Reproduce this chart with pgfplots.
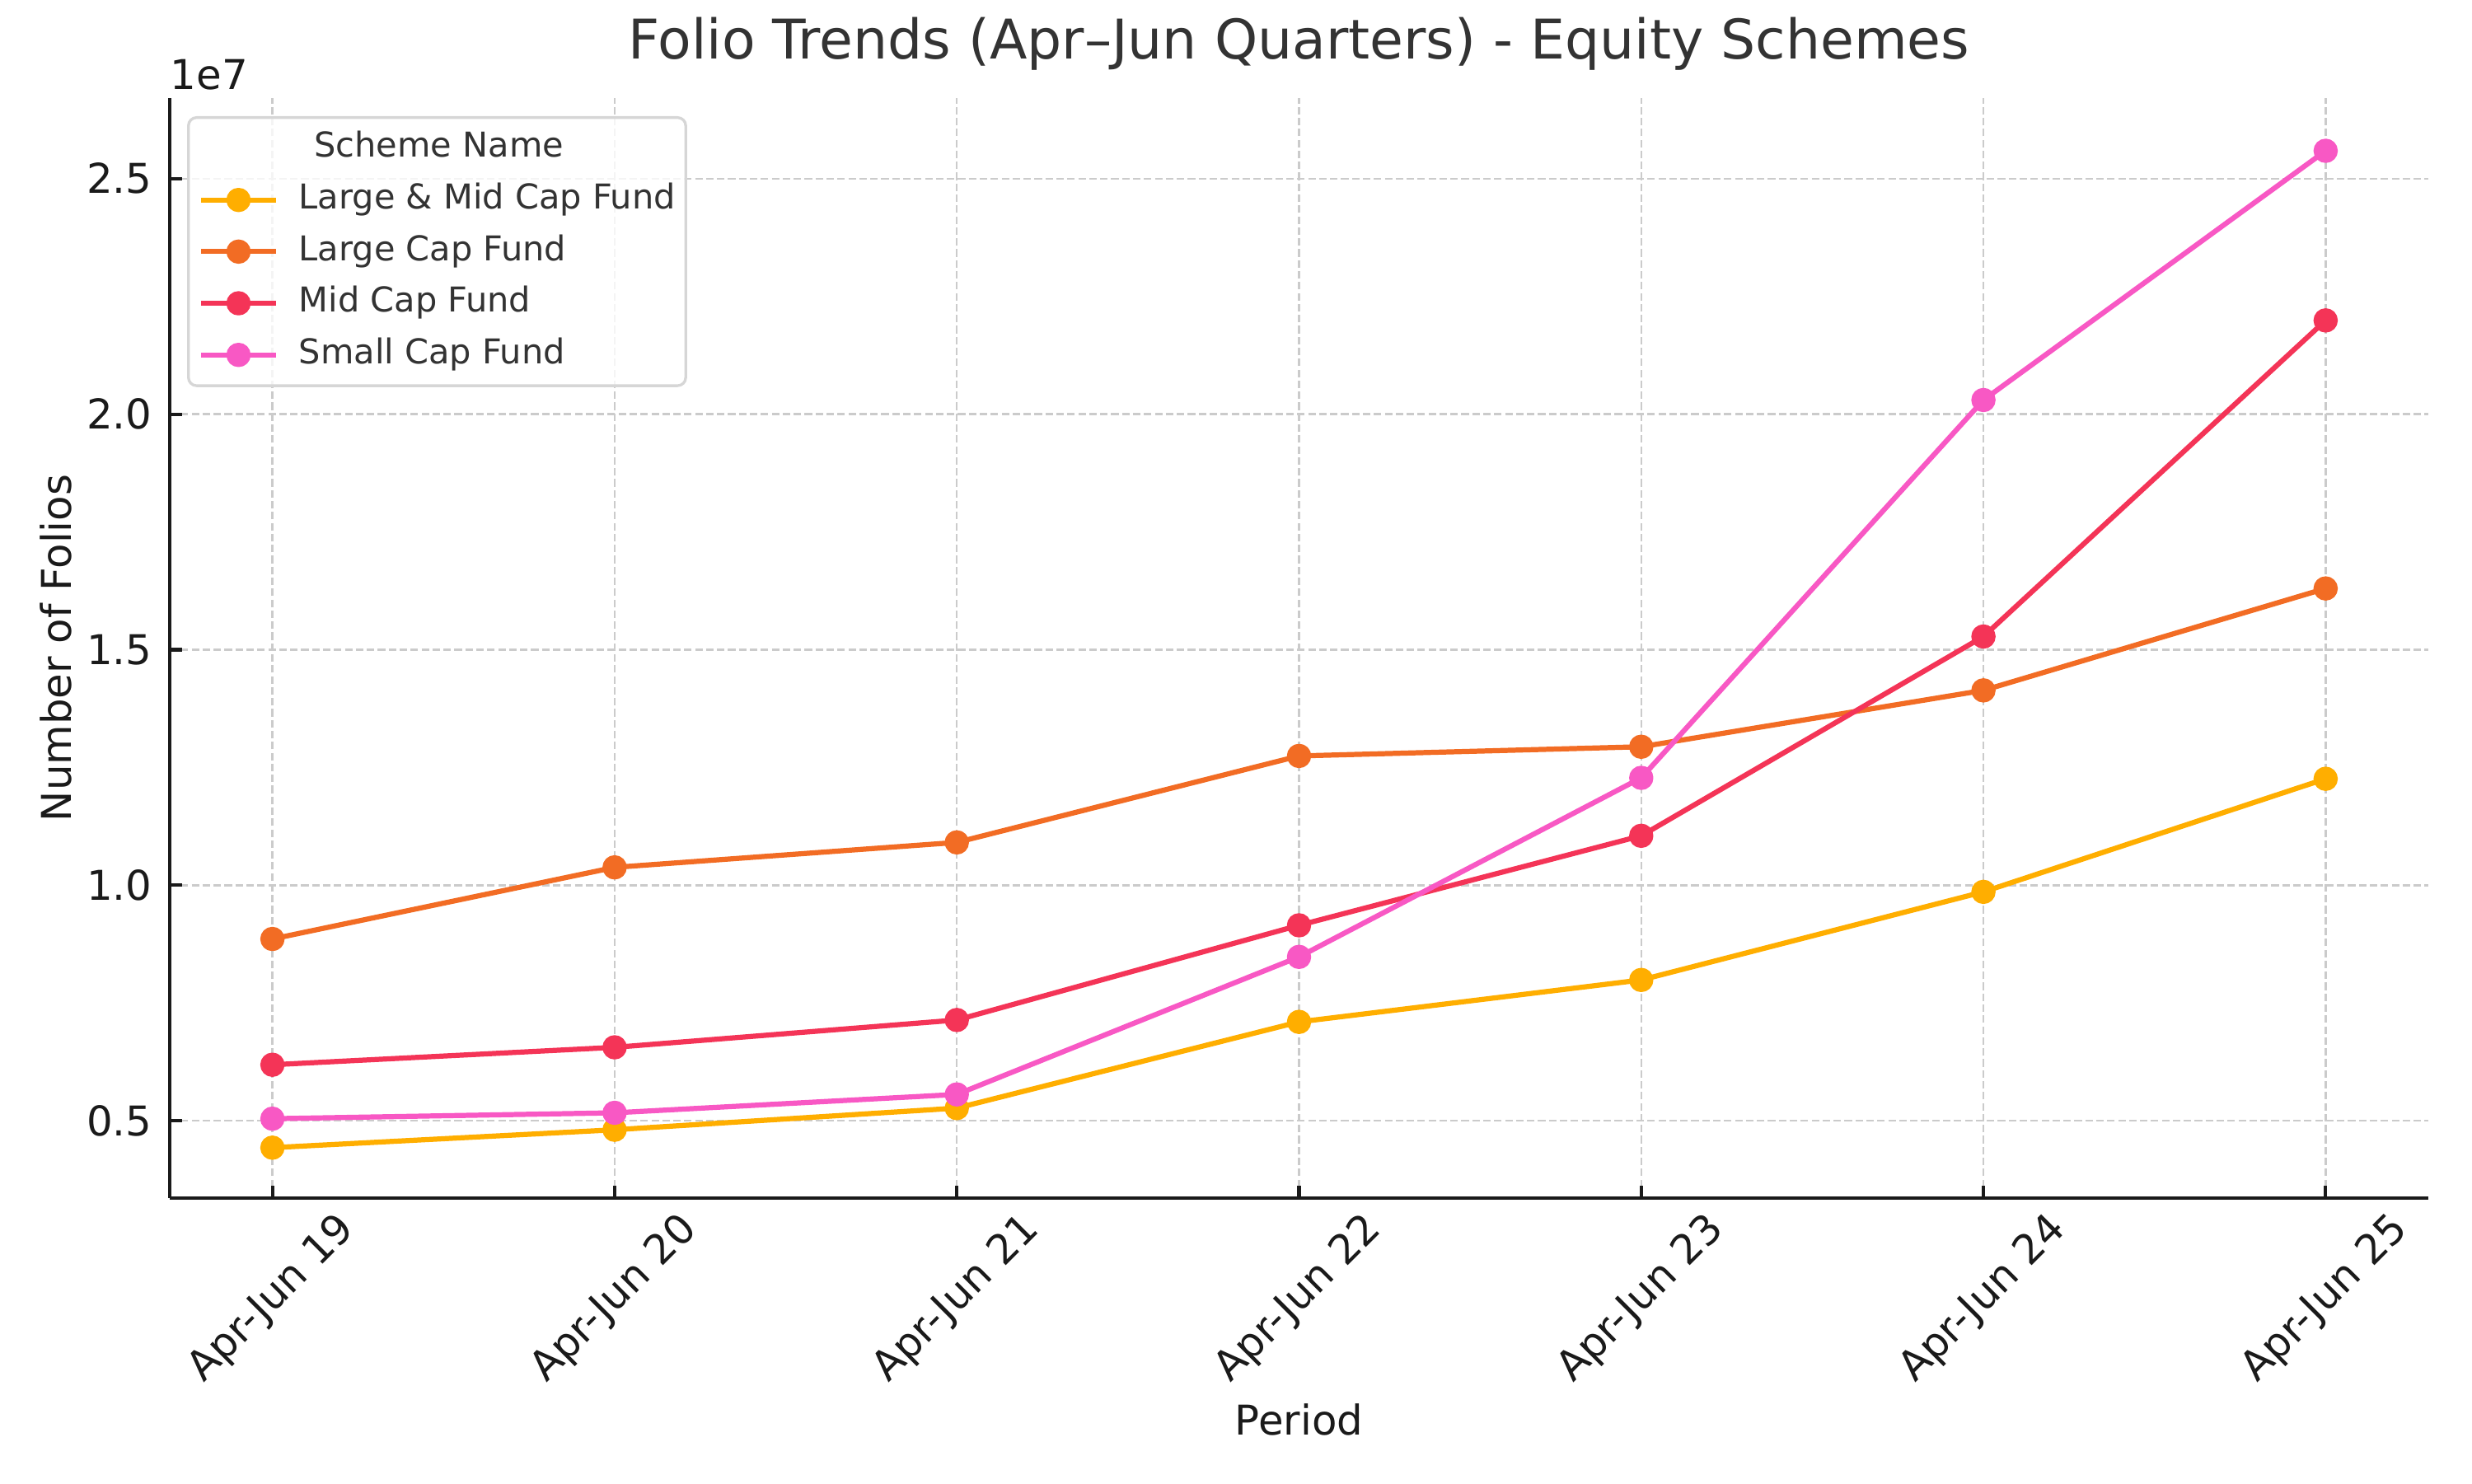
\documentclass[border=0pt]{standalone}
\usepackage{pgfplots}
\pgfplotsset{compat=1.18}
\usepackage{fontspec}
\setmainfont{DejaVu Sans}
\definecolor{cLMC}{HTML}{FFAE00}
\definecolor{cLC}{HTML}{F26C24}
\definecolor{cMC}{HTML}{F43457}
\definecolor{cSC}{HTML}{F858C4}
\definecolor{txt}{HTML}{1A1A1A}
\definecolor{ttl}{HTML}{333333}
\definecolor{gridc}{HTML}{CBCBCB}
\definecolor{legc}{HTML}{D6D6D6}
\begin{document}
\begin{tikzpicture}
\useasboundingbox (0,0) rectangle (722.7pt,433.62pt);
\begin{axis}[
  name=ax,
  at={(49.63pt,83.35pt)}, anchor=south west,
  scale only axis, width=660.3pt, height=321.6pt,
  xmin=-0.3, xmax=6.3, ymin=3360000, ymax=26710000,
  axis lines*=left,
  axis line style={line width=1pt, txt},
  xtick={0,1,2,3,4,5,6},
  xticklabels={Apr-Jun 19, Apr-Jun 20, Apr-Jun 21, Apr-Jun 22, Apr-Jun 23, Apr-Jun 24, Apr-Jun 25},
  ytick={5000000,10000000,15000000,20000000,25000000},
  yticklabels={0.5,1.0,1.5,2.0,2.5},
  scaled y ticks=false,
  tick align=inside,
  major tick length=3.5pt,
  tick style={line width=1pt, txt},
  ticklabel style={font=\fontsize{12}{14.4}\selectfont, text=txt},
  xticklabel style={yshift=-29.6pt, rotate=45, anchor=center, inner sep=0pt},
  yticklabel style={anchor=east, inner sep=0pt, xshift=-5pt},
  grid=major,
  major grid style={gridc, line width=0.6pt, dash pattern=on 2.2pt off 1pt},
  title={Folio Trends (Apr–Jun Quarters) - Equity Schemes},
  title style={at={(axis description cs:0.5,1)}, anchor=base, yshift=5.5pt, font=\fontsize{16}{19}\selectfont, text=ttl, inner sep=0pt},
  xlabel={Period},
  xlabel style={at={(axis description cs:0.5,-0.2155)}, anchor=base, font=\fontsize{12}{14.4}\selectfont, text=txt, inner sep=0pt},
  ylabel={Number of Folios},
  ylabel style={at={(axis description cs:-0.04378,0.5)}, anchor=base, font=\fontsize{12}{14.4}\selectfont, text=txt, inner sep=0pt},
  legend cell align=left,
  legend style={at={(0,1)}, anchor=north west, xshift=5.06pt, yshift=-5.3pt,
    draw=legc, line width=0.8pt, rounded corners=2.4pt, fill=white, fill opacity=0.8, text opacity=1,
    text=ttl, font=\fontsize{10}{12}\selectfont, inner xsep=3pt, inner ysep=4pt,
    row sep=5.1pt, column sep=6pt,
    nodes={inner sep=0pt, text height=7.6pt, text depth=2.4pt}},
  legend image code/.code={\draw[opacity=1, mark repeat=2, mark phase=2] plot coordinates {(0pt,0pt) (10.9pt,0pt) (21.8pt,0pt)};},
  every axis plot/.append style={line width=1.5pt, line join=round, mark=*, mark size=2.8pt},
]
\addlegendimage{empty legend}
\addlegendentry{\hspace*{4.5pt}Scheme Name}

\addplot[cLMC, mark options={draw=none, fill=cLMC}] coordinates {
(0,4430000) (1,4810000) (2,5270000) (3,7100000) (4,7990000) (5,9860000) (6,12260000)};
\addlegendentry{Large \& Mid Cap Fund}

\addplot[cLC, mark options={draw=none, fill=cLC}] coordinates {
(0,8860000) (1,10380000) (2,10910000) (3,12745000) (4,12940000) (5,14137000) (6,16300000)};
\addlegendentry{Large Cap Fund}

\addplot[cMC, mark options={draw=none, fill=cMC}] coordinates {
(0,6190000) (1,6560000) (2,7140000) (3,9150000) (4,11050000) (5,15280000) (6,21990000)};
\addlegendentry{Mid Cap Fund}

\addplot[cSC, mark options={draw=none, fill=cSC}] coordinates {
(0,5045000) (1,5170000) (2,5560000) (3,8480000) (4,12280000) (5,20300000) (6,25590000)};
\addlegendentry{Small Cap Fund}
\end{axis}
\node[anchor=base west, inner sep=0pt, font=\fontsize{12}{14.4}\selectfont, text=txt] at ([yshift=2.6pt]ax.north west) {1e7};
\end{tikzpicture}
\end{document}
